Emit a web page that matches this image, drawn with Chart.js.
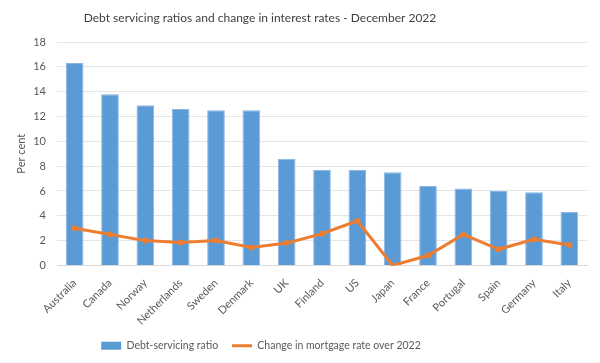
<!DOCTYPE html>
<html>
<head>
<meta charset="utf-8">
<script src="https://cdn.jsdelivr.net/npm/chart.js@4/dist/chart.umd.min.js"></script>
<style>
html,body{margin:0;padding:0;background:#fff;}
#wrap{width:600px;height:363px;position:relative;}
</style>
</head>
<body>
<div id="wrap"><canvas id="c"></canvas></div>
<script>
const countries=['Australia','Canada','Norway','Netherlands','Sweden','Denmark','UK','Finland','US','Japan','France','Portugal','Spain','Germany','Italy'];
const debtRatio=[16.3,13.8,12.9,12.6,12.5,12.5,8.6,7.7,7.7,7.5,6.4,6.2,6.0,5.9,4.3];
const rateChange=[3.0,2.5,2.0,1.85,2.0,1.45,1.8,2.55,3.6,0.0,0.8,2.5,1.3,2.1,1.65];
const yTicks=[0,2,4,6,8,10,12,14,16,18];

const FONT='Lato,"Open Sans",sans-serif';
const txt='#595959';
const SHIFT=40; // original centres title + legend a bit left of the canvas middle

// title drawn by hand so it can sit left of centre like the original
const titlePlugin={
  id:'ttl',
  afterLayout(chart){
    const lg=chart.legend;
    if(lg){
      lg.left-=SHIFT;lg.right-=SHIFT;
      if(lg.adjustHitBoxes) lg.adjustHitBoxes();
    }
  },
  afterDraw(chart){
    const ctx=chart.ctx;
    ctx.save();
    ctx.font='12px '+FONT;
    ctx.fillStyle='#404040';
    ctx.textAlign='center';ctx.textBaseline='middle';
    ctx.fillText('Debt servicing ratios and change in interest rates - December 2022',300-SHIFT,18);
    // marker on the line legend entry
    const hb=chart.legend&&chart.legend.legendHitBoxes&&chart.legend.legendHitBoxes[1];
    if(hb){
      ctx.fillStyle='#ED7D31';
      ctx.beginPath();
      ctx.arc(hb.left+10,hb.top+hb.height/2,3,0,Math.PI*2);
      ctx.fill();
    }
    ctx.restore();
  }
};

new Chart(document.getElementById('c'),{
  data:{
    labels:countries,
    datasets:[
      {type:'line',label:'Change in mortgage rate over 2022',data:rateChange,borderColor:'#ED7D31',backgroundColor:'#ED7D31',
       borderWidth:3,pointRadius:3,pointBackgroundColor:'#ED7D31',pointBorderWidth:0,tension:0,order:1},
      {type:'bar',label:'Debt-servicing ratio',data:debtRatio,backgroundColor:'#5B9BD5',borderColor:'#8AB6E3',borderWidth:1,
       barPercentage:0.5,categoryPercentage:1,order:2}
    ]
  },
  options:{
    responsive:true,maintainAspectRatio:false,animation:false,
    layout:{padding:{top:42,right:13,left:15,bottom:2}},
    plugins:{
      title:{display:false},
      tooltip:{enabled:false},
      legend:{
        position:'bottom',
        labels:{
          font:{family:FONT,size:10.5},color:txt,
          usePointStyle:true,pointStyleWidth:20,boxHeight:8,padding:14,
          generateLabels(chart){
            return [
              {text:'Debt-servicing ratio',fillStyle:'#5B9BD5',strokeStyle:'#5B9BD5',lineWidth:0,pointStyle:'rect',datasetIndex:1,fontColor:txt},
              {text:'Change in mortgage rate over 2022',fillStyle:'#ED7D31',strokeStyle:'#ED7D31',lineWidth:3,pointStyle:'line',datasetIndex:0,fontColor:txt}
            ];
          }
        }
      }
    },
    scales:{
      x:{
        grid:{display:false},
        border:{color:'#d9d9d9'},
        ticks:{font:{family:FONT,size:11},color:txt,maxRotation:45,minRotation:45,autoSkip:false},
        afterFit(scale){scale.paddingLeft=0;scale.height-=4;}
      },
      y:{
        min:0,max:18,
        afterBuildTicks(axis){axis.ticks=yTicks.map(v=>({value:v}));},
        afterFit(scale){scale.width=42;},
        grid:{color:'#e5e5e5',drawTicks:false},
        border:{display:false},
        title:{display:true,text:'Per cent',font:{family:FONT,size:11},color:txt,padding:{top:0,bottom:6}},
        ticks:{font:{family:FONT,size:11},color:txt,padding:11}
      }
    }
  },
  plugins:[titlePlugin]
});
</script>
</body>
</html>
